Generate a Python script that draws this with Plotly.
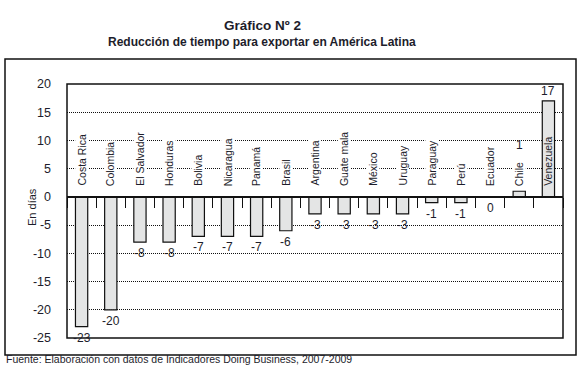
import plotly.graph_objects as go

# ---- data ----
countries = ["Costa Rica", "Colombia", "El Salvador", "Honduras", "Bolivia",
             "Nicaragua", "Panamá", "Brasil", "Argentina", "Guate mala",
             "México", "Uruguay", "Paraguay", "Perú", "Ecuador", "Chile",
             "Venezuela"]
values = [-23, -20, -8, -8, -7, -7, -7, -6, -3, -3, -3, -3, -1, -1, 0, 1, 17]
y_ticks = [20, 15, 10, 5, 0, -5, -10, -15, -20, -25]

title_1 = "Gráfico Nº 2"
title_2 = "Reducción de tiempo para exportar en América Latina"
y_title = "En días"
source = "Fuente: Elaboración con datos de Indicadores Doing Business, 2007-2009"

# ---- style ----
FONT = "Liberation Sans, Arial, sans-serif"
TXT = "#1d1d2b"
LABEL_NUDGE = {"Chile": 36}   # extra upward shift (px) for a value label
Y_MIN, Y_MAX = -25, 20
W, H = 582, 375
ML, MR, MT, MB = 67, 19, 84, 37
PW, PH = W - ML - MR, H - MT - MB


def px_x(px):
    return (px - ML) / PW


def px_y(py):
    return (H - MB - py) / PH


fig = go.Figure()
fig.add_trace(go.Bar(
    x=countries, y=values, width=0.42,
    marker=dict(color="#e4e5e5", line=dict(color="#111111", width=1.2)),
    hoverinfo="x+y", showlegend=False,
))

ann = []
# category labels (rotated, just above zero line)
for c in countries:
    inside = c == "Venezuela"
    ann.append(dict(x=c, y=0, xref="x", yref="y", text=c, textangle=-90,
                    showarrow=False, xanchor="center", yanchor="bottom",
                    yshift=10, borderpad=0,
                    bgcolor=None if inside else "white",
                    font=dict(family=FONT, size=10.5, color=TXT)))
# value labels
for c, v in zip(countries, values):
    nudge = LABEL_NUDGE.get(c, 0)
    if v > 0:
        ann.append(dict(x=c, y=v, xref="x", yref="y", text=str(v),
                        showarrow=False, yanchor="bottom", yshift=1 + nudge,
                        font=dict(family=FONT, size=12, color=TXT)))
    else:
        ann.append(dict(x=c, y=v, xref="x", yref="y", text=str(v),
                        showarrow=False, yanchor="top", yshift=-2 + nudge,
                        font=dict(family=FONT, size=12, color=TXT)))

# titles / source / axis title
ann.append(dict(x=px_x(262), y=px_y(16), xref="paper", yref="paper",
                text="<b>" + title_1 + "</b>", showarrow=False,
                font=dict(family=FONT, size=13.5, color=TXT)))
ann.append(dict(x=px_x(262), y=px_y(33), xref="paper", yref="paper",
                text="<b>" + title_2 + "</b>", showarrow=False,
                font=dict(family=FONT, size=12, color=TXT)))
ann.append(dict(x=px_x(4), y=px_y(367), xref="paper", yref="paper",
                xanchor="left", text=source, showarrow=False,
                font=dict(family=FONT, size=10.5, color=TXT)))
ann.append(dict(x=px_x(24), y=px_y(207), xref="paper", yref="paper",
                text=y_title, textangle=-90, showarrow=False,
                font=dict(family=FONT, size=11, color=TXT)))

shapes = [
    # plot box
    dict(type="rect", xref="paper", yref="paper", x0=0, x1=1, y0=0, y1=1,
         line=dict(color="#111111", width=1.5)),
    # outer frame
    dict(type="rect", xref="paper", yref="paper",
         x0=px_x(5), x1=px_x(576), y0=px_y(355), y1=px_y(59),
         line=dict(color="#111111", width=1.5)),
]

zero_pos = (0 - Y_MIN) / (Y_MAX - Y_MIN)

fig.update_layout(
    width=W, height=H,
    margin=dict(l=ML, r=MR, t=MT, b=MB),
    paper_bgcolor="white", plot_bgcolor="white",
    font=dict(family=FONT, color=TXT),
    annotations=ann, shapes=shapes,
    xaxis=dict(type="category", range=[-0.5, len(countries) - 0.5],
               anchor="free", position=zero_pos, showline=True,
               linecolor="#111111", linewidth=1.5, ticks="outside",
               tickson="boundaries", ticklen=10, tickcolor="#111111",
               tickwidth=1.2, showticklabels=False, showgrid=False,
               fixedrange=True),
    yaxis=dict(range=[Y_MIN, Y_MAX], tickvals=y_ticks,
               ticktext=[str(t) for t in y_ticks], showgrid=True,
               gridcolor="#111111", griddash="1px,1px", gridwidth=1,
               zeroline=False, showline=False, ticks="",
               ticklabelstandoff=15,
               tickfont=dict(family=FONT, size=12.5, color=TXT),
               fixedrange=True),
)

fig.write_html("out.html", config={"displayModeBar": False},
               post_script="document.body.style.margin='0px';")
